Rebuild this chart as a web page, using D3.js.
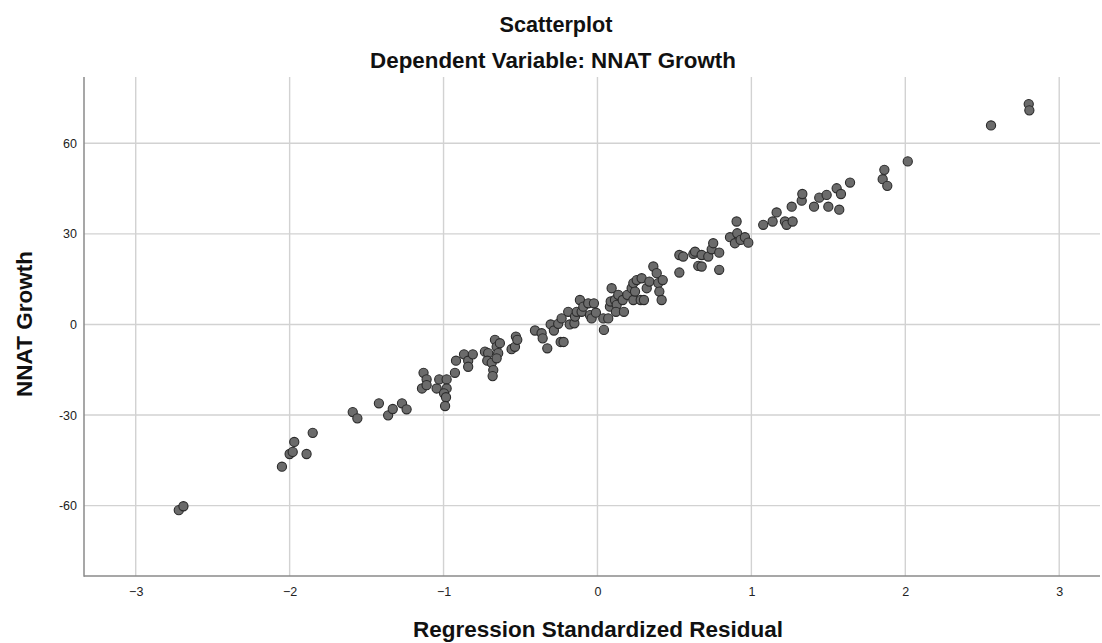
<!DOCTYPE html>
<html>
<head>
<meta charset="utf-8">
<script src="https://cdn.jsdelivr.net/npm/d3@7/dist/d3.min.js"></script>
<style>
  html, body { margin: 0; padding: 0; background: #fff; }
  svg { display: block; }
  text { font-family: "Liberation Sans", "DejaVu Sans", sans-serif; }
</style>
</head>
<body>
<svg id="chart" width="1102" height="643"></svg>
<script>
// Regression standardized residual (x) vs NNAT Growth (y)
const residual = [
  -2.72, -2.69, -2.05, -2.00, -1.98, -1.97, -1.89, -1.85, -1.59, -1.56,
  -1.42, -1.36, -1.33, -1.27, -1.24, -1.13, -1.11, -1.14, -1.11, -1.045,
  -1.028, -0.98, -0.98, -0.997, -0.984, -0.99, -0.926, -0.919, -0.867, -0.84,
  -0.84, -0.81, -0.731, -0.71, -0.716, -0.687, -0.677, -0.681, -0.666, -0.655,
  -0.645, -0.655, -0.634, -0.558, -0.536, -0.53, -0.521, -0.406, -0.363, -0.356,
  -0.326, -0.304, -0.283, -0.255, -0.239, -0.22, -0.233, -0.19, -0.18, -0.15,
  -0.146, -0.135, -0.114, -0.103, -0.092, -0.06, -0.049, -0.038, -0.023, -0.01,
  0.038, 0.07, 0.042, 0.081, 0.092, 0.086, 0.114, 0.125, 0.135, 0.12,
  0.172, 0.164, 0.194, 0.222, 0.233, 0.233, 0.244, 0.255, 0.281, 0.287,
  0.302, 0.32, 0.337, 0.363, 0.385, 0.395, 0.402, 0.417, 0.424, 0.532,
  0.532, 0.557, 0.623, 0.634, 0.655, 0.677, 0.677, 0.72, 0.742, 0.752,
  0.791, 0.791, 0.861, 0.893, 0.904, 0.908, 0.93, 0.958, 0.98, 1.077,
  1.138, 1.164, 1.218, 1.229, 1.268, 1.262, 1.327, 1.331, 1.407, 1.441,
  1.489, 1.5, 1.554, 1.582, 1.571, 1.641, 1.864, 1.853, 1.883, 2.016,
  2.557, 2.802, 2.806
];
const growth = [
  -61.5, -60.2, -47.1, -42.9, -42.2, -38.9, -42.9, -35.9, -29.0, -31.1,
  -26.1, -30.1, -28.0, -26.1, -28.1, -16.0, -18.2, -21.2, -20.1, -21.2,
  -18.2, -18.2, -21.2, -22.8, -24.1, -27.0, -16.0, -12.0, -9.9, -12.0,
  -14.0, -9.9, -9.0, -9.5, -12.0, -12.7, -15.1, -17.1, -5.1, -7.4,
  -9.5, -11.2, -6.2, -8.2, -7.4, -4.0, -5.1, -2.0, -2.9, -4.6,
  -7.9, 0.0, -2.0, 0.2, -5.8, -5.8, 2.0, 4.2, 0.0, 0.4,
  2.6, 4.2, 8.1, 4.2, 5.9, 7.0, 3.1, 2.0, 7.0, 3.9,
  2.0, 2.0, -1.8, 5.9, 12.0, 7.6, 8.1, 6.5, 9.8, 4.2,
  4.2, 8.1, 9.8, 12.0, 13.7, 8.1, 10.9, 14.7, 8.1, 15.3,
  8.1, 12.0, 14.2, 19.2, 17.0, 13.7, 10.9, 8.1, 14.7, 23.0,
  17.2, 22.5, 23.4, 24.1, 19.4, 19.2, 23.0, 22.5, 24.9, 26.9,
  23.8, 18.1, 28.9, 26.9, 34.1, 30.2, 28.0, 28.9, 27.1, 33.0,
  34.1, 37.1, 34.1, 33.0, 34.1, 39.0, 41.0, 43.2, 39.0, 42.0,
  42.9, 39.0, 45.1, 43.2, 38.0, 47.0, 51.2, 48.1, 45.9, 54.0,
  65.9, 73.0, 70.9
];
const xTicks = [-3, -2, -1, 0, 1, 2, 3];
const yTicks = [-60, -30, 0, 30, 60];
const xTickLabels = ["\u22123", "\u22122", "\u22121", "0", "1", "2", "3"];
const yTickLabels = ["-60", "-30", "0", "30", "60"];

const svg = d3.select("#chart");
const plot = { left: 84, right: 1100, top: 77, bottom: 576 };

const x = d3.scaleLinear().domain([-3.336, 3.265]).range([plot.left, plot.right]);
const y = d3.scaleLinear().domain([-83.3, 81.95]).range([plot.bottom, plot.top]);

// Grid lines
svg.append("g").selectAll("line").data(xTicks).join("line")
  .attr("x1", d => x(d)).attr("x2", d => x(d))
  .attr("y1", plot.top).attr("y2", plot.bottom)
  .attr("stroke", "#d2d2d2").attr("stroke-width", 1.4);
svg.append("g").selectAll("line").data(yTicks).join("line")
  .attr("x1", plot.left).attr("x2", plot.right)
  .attr("y1", d => y(d)).attr("y2", d => y(d))
  .attr("stroke", "#d2d2d2").attr("stroke-width", 1.4);

// Axes (labels only, no tick marks)
const xAxis = d3.axisBottom(x).tickValues(xTicks)
  .tickFormat((d, i) => xTickLabels[i]).tickSize(0).tickPadding(11);
const yAxis = d3.axisLeft(y).tickValues(yTicks)
  .tickFormat((d, i) => yTickLabels[i]).tickSize(0).tickPadding(7);

const gx = svg.append("g").attr("transform", `translate(0,${plot.bottom})`).call(xAxis);
const gy = svg.append("g").attr("transform", `translate(${plot.left},0)`).call(yAxis);
[gx, gy].forEach(g => {
  g.select(".domain").remove();
  g.selectAll("text").attr("font-size", 12.5).attr("fill", "#222")
    .attr("font-family", "'Liberation Sans', 'DejaVu Sans', sans-serif");
});

svg.append("line").attr("x1", plot.left).attr("x2", plot.left)
  .attr("y1", plot.top).attr("y2", plot.bottom + 0.75)
  .attr("stroke", "#8a8a8a").attr("stroke-width", 1.5);
svg.append("line").attr("x1", plot.left).attr("x2", plot.right)
  .attr("y1", plot.bottom).attr("y2", plot.bottom)
  .attr("stroke", "#8a8a8a").attr("stroke-width", 1.5);

// Points
svg.append("g").selectAll("circle").data(residual.map((r, i) => [r, growth[i]])).join("circle")
  .attr("cx", d => x(d[0])).attr("cy", d => y(d[1])).attr("r", 4.6)
  .attr("fill", "#6b6b6b").attr("stroke", "#2b2b2b").attr("stroke-width", 1.1);

// Titles, sized to a fixed text width
function fitText(sel, width) {
  const w = sel.node().getComputedTextLength();
  const fs = parseFloat(sel.attr("font-size"));
  sel.attr("font-size", fs * width / w);
}
function title(xp, yp, str, width, rotate) {
  const t = svg.append("text")
    .attr("transform", `translate(${xp},${yp})` + (rotate ? " rotate(-90)" : ""))
    .attr("text-anchor", "middle").attr("font-weight", "bold")
    .attr("font-size", 22).attr("fill", "#111").text(str);
  fitText(t, width);
  return t;
}
title(556, 32, "Scatterplot", 113);
title(553, 68, "Dependent Variable: NNAT Growth", 366);
title(598, 637, "Regression Standardized Residual", 370);
title(32, 324, "NNAT Growth", 146, true);
</script>
</body>
</html>
